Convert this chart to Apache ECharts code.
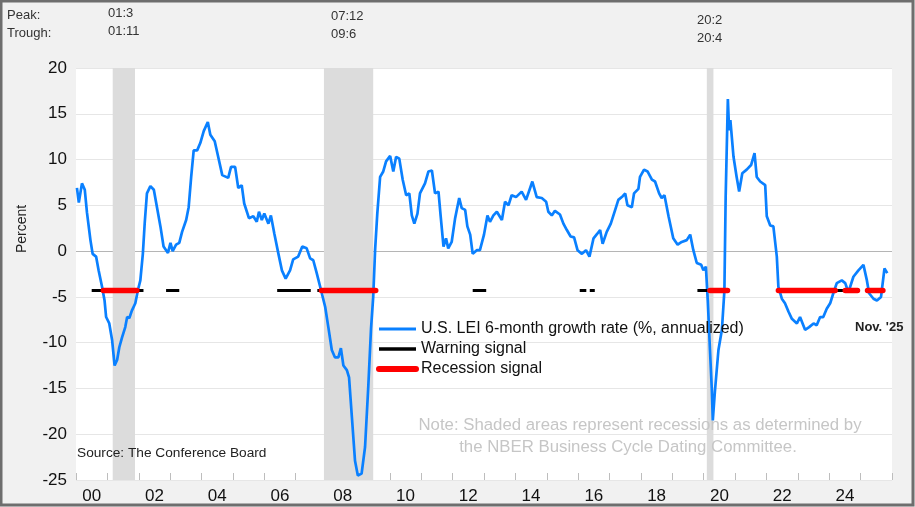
<!DOCTYPE html>
<html>
<head>
<meta charset="utf-8">
<title>U.S. LEI 6-month growth rate</title>
<script src="https://cdn.jsdelivr.net/npm/echarts@6.0.0/dist/echarts.min.js"></script>
<style>
  html, body { margin: 0; padding: 0; background: #f1f1f1; }
  #chart { width: 915px; height: 507px; }
</style>
</head>
<body>
<div id="chart"></div>
<script>
// 月度数据（小数年份）
const leiYears = [
  2000.03, 2000.09, 2000.19, 2000.28, 2000.35, 2000.46, 2000.53, 2000.64, 2000.72, 2000.83,
  2000.91, 2000.96, 2001.06, 2001.15, 2001.23, 2001.31, 2001.38, 2001.47, 2001.57, 2001.63,
  2001.70, 2001.78, 2001.89, 2001.97, 2002.05, 2002.13, 2002.19, 2002.26, 2002.37, 2002.48,
  2002.58, 2002.69, 2002.79, 2002.93, 2003.01, 2003.08, 2003.19, 2003.29, 2003.38, 2003.51,
  2003.59, 2003.67, 2003.75, 2003.86, 2003.96, 2004.07, 2004.20, 2004.28, 2004.42, 2004.53,
  2004.66, 2004.85, 2004.94, 2005.07, 2005.17, 2005.28, 2005.36, 2005.51, 2005.65, 2005.76,
  2005.83, 2005.92, 2006.00, 2006.13, 2006.21, 2006.32, 2006.45, 2006.56, 2006.68, 2006.82,
  2006.92, 2007.08, 2007.21, 2007.35, 2007.46, 2007.56, 2007.67, 2007.81, 2007.94, 2008.04,
  2008.15, 2008.25, 2008.36, 2008.44, 2008.52, 2008.63, 2008.70, 2008.79, 2008.89, 2008.98,
  2009.10, 2009.21, 2009.31, 2009.40, 2009.47, 2009.53, 2009.60, 2009.69, 2009.79, 2009.88,
  2010.01, 2010.11, 2010.20, 2010.30, 2010.41, 2010.52, 2010.62, 2010.70, 2010.78, 2010.88,
  2010.96, 2011.12, 2011.23, 2011.34, 2011.44, 2011.55, 2011.62, 2011.71, 2011.79, 2011.86,
  2011.97, 2012.08, 2012.21, 2012.29, 2012.40, 2012.47, 2012.56, 2012.64, 2012.77, 2012.87,
  2013.00, 2013.11, 2013.19, 2013.30, 2013.41, 2013.57, 2013.67, 2013.78, 2013.88, 2014.02,
  2014.20, 2014.34, 2014.47, 2014.54, 2014.68, 2014.84, 2014.98, 2015.05, 2015.16, 2015.26,
  2015.42, 2015.53, 2015.64, 2015.76, 2015.87, 2015.98, 2016.12, 2016.25, 2016.36, 2016.49,
  2016.61, 2016.70, 2016.78, 2016.91, 2017.04, 2017.18, 2017.28, 2017.42, 2017.50, 2017.57,
  2017.71, 2017.78, 2017.92, 2017.97, 2018.10, 2018.21, 2018.35, 2018.45, 2018.58, 2018.66,
  2018.75, 2018.88, 2019.03, 2019.17, 2019.30, 2019.46, 2019.57, 2019.67, 2019.78, 2019.92,
  2019.99, 2020.07, 2020.13, 2020.20, 2020.26, 2020.29, 2020.36, 2020.47, 2020.58, 2020.66,
  2020.70, 2020.77, 2020.81, 2020.85, 2020.95, 2021.05, 2021.13, 2021.23, 2021.37, 2021.51,
  2021.62, 2021.69, 2021.80, 2021.96, 2022.01, 2022.12, 2022.22, 2022.33, 2022.38, 2022.49,
  2022.59, 2022.70, 2022.81, 2022.97, 2023.07, 2023.23, 2023.36, 2023.50, 2023.60, 2023.71,
  2023.81, 2023.92, 2024.03, 2024.13, 2024.24, 2024.40, 2024.51, 2024.61, 2024.77, 2024.93,
  2025.09, 2025.20, 2025.27, 2025.41, 2025.52, 2025.65, 2025.76, 2025.85
]
const leiValues = [
  6.9, 5.3, 7.4, 6.7, 4.2, 1.2, -0.3, -0.6, -2.1, -3.9,
  -5.4, -7.2, -7.9, -9.7, -12.5, -11.9, -10.5, -9.4, -8.3, -7.2,
  -7.3, -6.5, -5.7, -4.3, -3.2, -0.3, 3.1, 6.3, 7.1, 6.7,
  4.8, 2.7, 0.5, -0.2, 0.9, 0.0, 0.7, 0.9, 2.1, 3.4,
  4.8, 8.1, 11.0, 11.0, 11.8, 13.1, 14.1, 12.7, 12.0, 10.3,
  8.3, 8.0, 9.2, 9.2, 6.9, 7.2, 5.2, 3.6, 3.8, 3.2,
  4.3, 3.4, 4.1, 3.0, 3.9, 1.9, -0.3, -2.1, -3.0, -2.1,
  -0.9, -0.6, 0.5, 0.3, -0.8, -1.0, -2.4, -4.3, -6.1, -8.3,
  -10.8, -11.6, -11.6, -10.6, -12.5, -13.0, -13.8, -18.1, -22.9, -24.5,
  -24.3, -21.4, -15.0, -8.5, -5.0, 0.1, 4.1, 8.1, 8.7, 9.8,
  10.4, 8.7, 10.3, 10.1, 7.8, 6.1, 6.3, 3.9, 3.0, 4.1,
  6.3, 7.4, 8.7, 8.8, 6.3, 6.5, 3.8, 0.5, 1.4, 0.3,
  1.0, 3.6, 5.8, 4.7, 4.5, 2.7, 1.8, -0.3, 0.1, 0.1,
  1.8, 3.9, 3.2, 3.9, 4.3, 3.4, 5.4, 5.0, 6.1, 5.9,
  6.5, 5.6, 6.9, 7.6, 5.9, 5.8, 5.4, 4.3, 3.9, 4.4,
  4.0, 3.0, 2.3, 1.6, 1.5, 0.1, -0.3, 0.1, -0.6, 1.4,
  1.9, 2.3, 0.8, 2.1, 3.0, 4.5, 5.6, 6.0, 6.3, 5.0,
  4.8, 6.3, 6.8, 8.1, 8.9, 8.7, 7.8, 7.6, 6.3, 5.8,
  6.1, 3.8, 1.4, 0.7, 1.0, 1.2, 1.8, 0.1, -1.3, -1.5,
  -2.1, -1.7, -5.4, -10.8, -15.2, -18.5, -15.2, -10.8, -8.6, -4.3,
  5.9, 16.6, 13.2, 14.3, 10.3, 8.1, 6.5, 8.5, 8.9, 9.4,
  10.7, 8.1, 7.6, 7.2, 3.8, 2.8, 2.7, -0.6, -3.9, -5.2,
  -5.7, -6.6, -7.4, -7.9, -7.2, -8.6, -8.3, -7.9, -8.1, -7.2,
  -7.2, -6.3, -5.7, -4.6, -3.5, -3.2, -3.5, -4.5, -2.8, -2.1,
  -1.5, -3.2, -4.6, -5.2, -5.4, -5.0, -1.9, -2.4
]

// NBER 衰退区间（灰色阴影）
const recessionSpans = [[2001.17, 2001.88], [2007.90, 2009.47], [2020.10, 2020.31]]
// 信号线所在的水平位置
const signalLevel = -4.3
const warningSpans = [
  [2000.50, 2000.87], [2001.94, 2002.15], [2002.87, 2003.29], [2006.41, 2007.48],
  [2007.69, 2007.82], [2012.64, 2013.07], [2016.05, 2016.26], [2016.37, 2016.53],
  [2019.80, 2020.12], [2024.19, 2024.51]
]
const recessionSignalSpans = [
  [2000.87, 2001.94], [2007.82, 2009.55], [2020.20, 2020.76],
  [2022.38, 2024.19], [2024.51, 2024.90], [2025.22, 2025.71]
]

// 坐标轴刻度标签
const yearCategories = ['00', '01', '02', '03', '04', '05', '06', '07', '08', '09', '10', '11', '12',
  '13', '14', '15', '16', '17', '18', '19', '20', '21', '22', '23', '24', '25']
const yTicks = [-25, -20, -15, -10, -5, 0, 5, 10, 15, 20]

// 峰谷日期标注
const turningPoints = [
  { x: 108, peak: '01:3', trough: '01:11', dy: 0 },
  { x: 331, peak: '07:12', trough: '09:6', dy: 3 },
  { x: 697, peak: '20:2', trough: '20:4', dy: 7 }
]

const font = 'Liberation Sans, Arial, sans-serif'

// 信号区间转成折线数据，用 '-' 断开
function spansToLine(spans) {
  let out = []
  spans.forEach(s => {
    out.push([s[0], signalLevel])
    out.push([s[1], signalLevel])
    out.push([s[1], '-'])
  })
  return out
}

let chart = echarts.init(document.getElementById('chart'))

let graphics = [
  { type: 'text', x: 7, y: 15, style: { text: 'Peak:', font: '13px ' + font, fill: '#333', textVerticalAlign: 'middle' } },
  { type: 'text', x: 7, y: 33, style: { text: 'Trough:', font: '13px ' + font, fill: '#333', textVerticalAlign: 'middle' } },
  { type: 'text', x: 22, y: 229, rotation: Math.PI / 2, style: { text: 'Percent', font: '14px ' + font, fill: '#222', textAlign: 'center', textVerticalAlign: 'middle' } },
  { type: 'text', z: 50, x: 77, y: 453, style: { text: 'Source: The Conference Board', font: '13.7px ' + font, fill: '#222', textVerticalAlign: 'middle' } },
  { type: 'text', z: 50, x: 640, y: 425, style: { text: 'Note: Shaded areas represent recessions as determined by', font: '16.8px ' + font, fill: '#c6c6c6', textAlign: 'center', textVerticalAlign: 'middle' } },
  { type: 'text', z: 50, x: 628, y: 447, style: { text: 'the NBER Business Cycle Dating Committee.', font: '16.8px ' + font, fill: '#c6c6c6', textAlign: 'center', textVerticalAlign: 'middle' } },
  { type: 'text', z: 50, x: 855, y: 327, style: { text: "Nov. '25", font: 'bold 13px ' + font, fill: '#222', textVerticalAlign: 'middle' } },
  // 外框
  { type: 'rect', z: 100, shape: { x: 1, y: 1, width: 912, height: 504 }, style: { fill: 'none', stroke: '#6e6e6e', lineWidth: 3 } }
]
turningPoints.forEach(p => {
  graphics.push({ type: 'text', x: p.x, y: 13 + p.dy, style: { text: p.peak, font: '13px ' + font, fill: '#333', textVerticalAlign: 'middle' } })
  graphics.push({ type: 'text', x: p.x, y: 31 + p.dy, style: { text: p.trough, font: '13px ' + font, fill: '#333', textVerticalAlign: 'middle' } })
})

// 零线颜色深一些
let splitColors = yTicks.map(v => v === 0 ? '#b5b5b5' : '#e6e6e6')

chart.setOption({
  backgroundColor: '#f1f1f1',
  animation: false,
  grid: {
    left: 76, right: 23, top: 68, bottom: 27,
    show: true, backgroundColor: '#ffffff', borderWidth: 0
  },
  legend: {
    orient: 'vertical',
    left: 371, top: 316,
    itemWidth: 37, itemHeight: 16, itemGap: 4,
    // 图例只画线，不画圆点
    itemStyle: { color: 'rgba(0,0,0,0)', borderWidth: 0, opacity: 0 },
    textStyle: { fontFamily: font, fontSize: 16, color: '#111' },
    data: [
      { name: 'U.S. LEI 6-month growth rate (%, annualized)', lineStyle: { width: 3 } },
      { name: 'Warning signal', lineStyle: { width: 3.5 } },
      { name: 'Recession signal', lineStyle: { width: 6, cap: 'round' } }
    ]
  },
  xAxis: [{
    type: 'value',
    min: 2000, max: 2026, interval: 1,
    axisLine: { show: false, onZero: false },
    axisTick: { show: true, inside: true, length: 7, lineStyle: { color: '#bdbdbd' } },
    axisLabel: { show: false },
    splitLine: { show: false }
  }, {
    type: 'category',
    position: 'bottom',
    data: yearCategories,
    boundaryGap: true,
    axisLine: { show: false, onZero: false },
    axisTick: { show: false },
    axisLabel: { interval: 1, margin: 8, fontFamily: font, fontSize: 17, color: '#111' }
  }],
  yAxis: {
    type: 'value',
    min: -25, max: 20, interval: 5,
    axisLine: { show: false },
    axisTick: { show: false },
    axisLabel: { margin: 9, fontFamily: font, fontSize: 17, color: '#111' },
    splitLine: { lineStyle: { color: splitColors, width: 1 } }
  },
  series: [{
    name: 'U.S. LEI 6-month growth rate (%, annualized)',
    type: 'line',
    xAxisIndex: 0,
    symbol: 'none',
    data: leiYears.map((y, i) => [y, leiValues[i]]),
    lineStyle: { color: '#0a80ff', width: 2.7 },
    itemStyle: { color: '#0a80ff' },
    markArea: {
      silent: true,
      itemStyle: { color: '#dcdcdc' },
      data: recessionSpans.map(s => [{ xAxis: s[0] }, { xAxis: s[1] }])
    }
  }, {
    name: 'Warning signal',
    type: 'line',
    xAxisIndex: 0,
    symbol: 'none',
    data: spansToLine(warningSpans),
    lineStyle: { color: '#000', width: 3 },
    itemStyle: { color: '#000' }
  }, {
    name: 'Recession signal',
    type: 'line',
    xAxisIndex: 0,
    symbol: 'none',
    data: spansToLine(recessionSignalSpans),
    lineStyle: { color: '#ff0000', width: 5.5, cap: 'round' },
    itemStyle: { color: '#ff0000' }
  }],
  graphic: graphics
})
</script>
</body>
</html>
